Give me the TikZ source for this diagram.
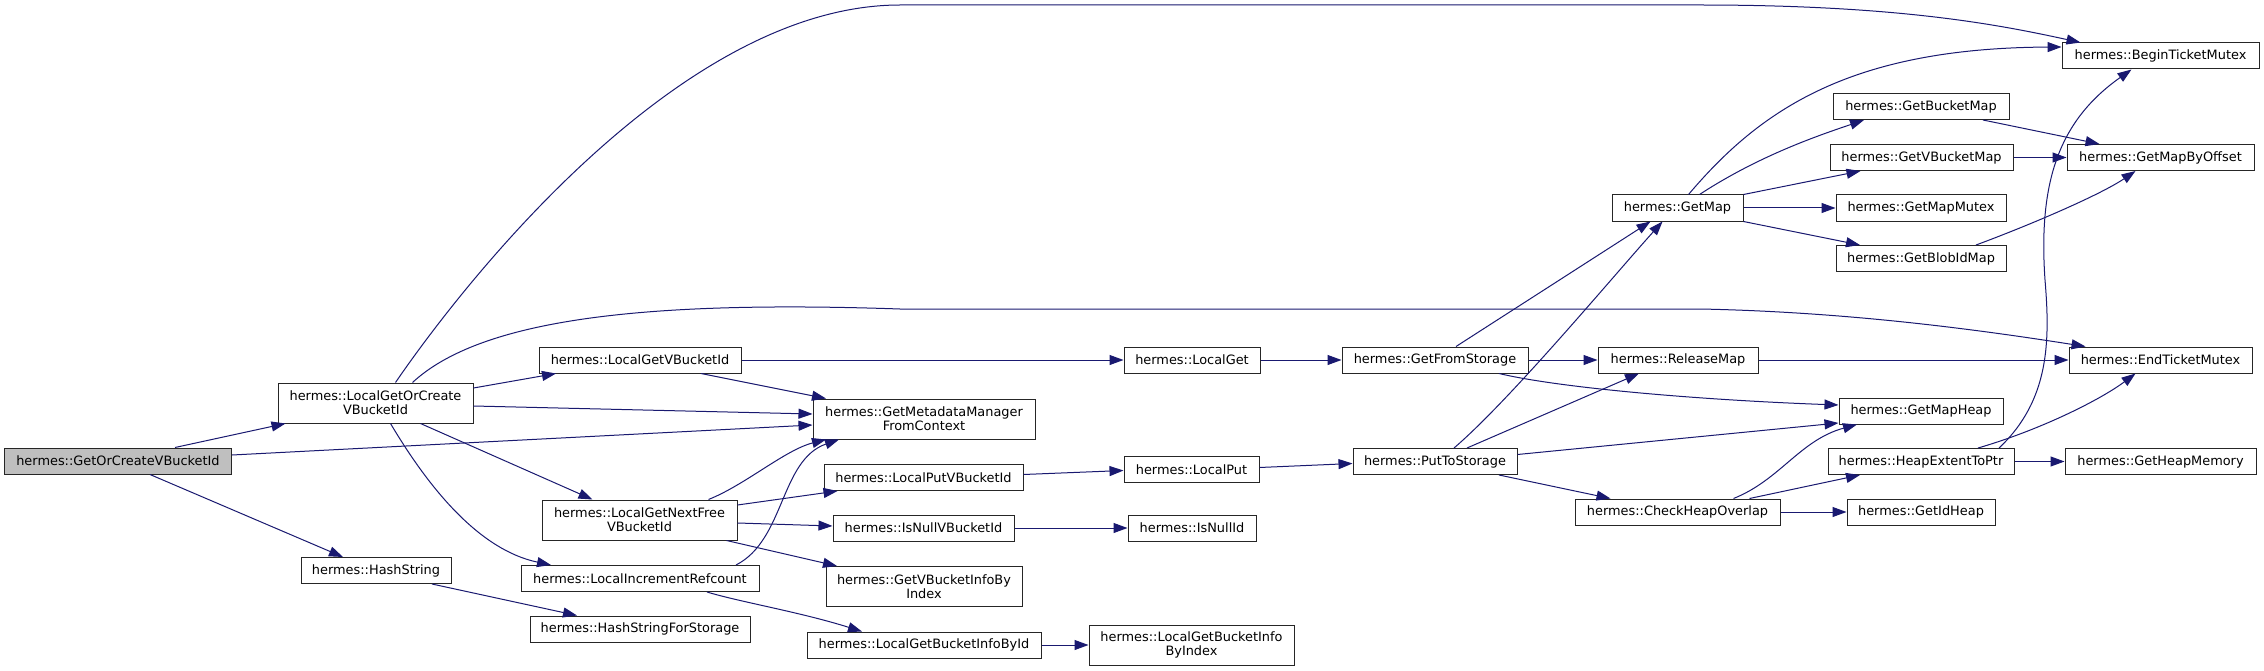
\documentclass[tikz,border=0pt]{standalone}
\usepackage{fontspec}
\setmainfont{DejaVu Sans}
\usetikzlibrary{arrows.meta}
\definecolor{edgecol}{RGB}{25,25,112}
\definecolor{rootfill}{RGB}{191,191,191}
\begin{document}
\begin{tikzpicture}[x=1pt,y=-1pt,
  nd/.style={draw=black!85, line width=1pt, fill=white, inner sep=0pt, minimum height=26pt, align=center, font=\fontsize{12.9}{14}\selectfont},
  nd2/.style={nd, minimum height=40pt},
  edge/.style={draw=edgecol, line width=1pt, -{Triangle[length=14pt,width=10pt]}}]
\useasboundingbox[fill=white] (0,0) rectangle (2264,671);
% nodes
\node[nd, fill=rootfill, minimum width=227pt] (root) at (118,461) {hermes::GetOrCreateVBucketId};
\node[nd2, minimum width=195pt] (lgoc) at (375.5,403) {hermes::LocalGetOrCreate\\VBucketId};
\node[nd, minimum width=150pt] (hs) at (376,570.5) {hermes::HashString};
\node[nd, minimum width=202pt] (lgvb) at (640,360) {hermes::LocalGetVBucketId};
\node[nd2, minimum width=222pt] (gmm) at (924,419) {hermes::GetMetadataManager\\FromContext};
\node[nd2, minimum width=195pt] (lgnf) at (639.5,520) {hermes::LocalGetNextFree\\VBucketId};
\node[nd, minimum width=238pt] (lir) at (640,578.5) {hermes::LocalIncrementRefcount};
\node[nd, minimum width=220pt] (hsfs) at (640,629) {hermes::HashStringForStorage};
\node[nd, minimum width=199pt] (lpvb) at (923.5,477.5) {hermes::LocalPutVBucketId};
\node[nd, minimum width=181pt] (invb) at (923.5,528) {hermes::IsNullVBucketId};
\node[nd2, minimum width=196pt] (gvbi) at (924,586.5) {hermes::GetVBucketInfoBy\\Index};
\node[nd, minimum width=234pt] (lgbi) at (924,645) {hermes::LocalGetBucketInfoById};
\node[nd2, minimum width=205pt] (lgbix) at (1191.5,645) {hermes::LocalGetBucketInfo\\ByIndex};
\node[nd, minimum width=136pt] (lget) at (1192,360) {hermes::LocalGet};
\node[nd, minimum width=135pt] (lput) at (1191.5,469.5) {hermes::LocalPut};
\node[nd, minimum width=128pt] (inid) at (1192,528) {hermes::IsNullId};
\node[nd, minimum width=186pt] (gfs) at (1435,360) {hermes::GetFromStorage};
\node[nd, minimum width=164pt] (pts) at (1435,461.5) {hermes::PutToStorage};
\node[nd, minimum width=131pt] (gmap) at (1677.5,208) {hermes::GetMap};
\node[nd, minimum width=160pt] (rmap) at (1678,360) {hermes::ReleaseMap};
\node[nd, minimum width=205pt] (cho) at (1677.5,512) {hermes::CheckHeapOverlap};
\node[nd, minimum width=197pt] (btm) at (2160.5,56) {hermes::BeginTicketMutex};
\node[nd, minimum width=176pt] (gbm) at (1921,106.5) {hermes::GetBucketMap};
\node[nd, minimum width=183pt] (gvbm) at (1921.5,157.5) {hermes::GetVBucketMap};
\node[nd, minimum width=187pt] (gmbo) at (2160.5,157.5) {hermes::GetMapByOffset};
\node[nd, minimum width=170pt] (gmmx) at (1921,208) {hermes::GetMapMutex};
\node[nd, minimum width=170pt] (gbim) at (1921,258.5) {hermes::GetBlobIdMap};
\node[nd, minimum width=183pt] (etm) at (2160.5,360) {hermes::EndTicketMutex};
\node[nd, minimum width=164pt] (gmh) at (1921,411) {hermes::GetMapHeap};
\node[nd, minimum width=186pt] (hetp) at (1921,461.5) {hermes::HeapExtentToPtr};
\node[nd, minimum width=191pt] (ghm) at (2160.5,461.5) {hermes::GetHeapMemory};
\node[nd, minimum width=148pt] (gih) at (1921,512) {hermes::GetIdHeap};
% edges
\draw[edge] ([xshift=57pt]root.north) -- ([xshift=-90pt]lgoc.south);
\draw[edge] ([yshift=6pt]root.east) -- ([yshift=-6pt]gmm.west);
\draw[edge] ([xshift=32pt]root.south) -- ([xshift=-33pt]hs.north);
\draw[edge] ([xshift=20pt]lgoc.north) .. controls (445,310) and (670,5) .. (900,5) -- (1700,5) .. controls (1900,5) and (2000,25) .. ([xshift=-80pt]btm.north);
\draw[edge] ([xshift=37pt]lgoc.north) .. controls (480,320) and (640,300) .. (900,309) -- (1700,309) .. controls (1850,312) and (1980,330) .. ([xshift=-75pt]etm.north);
\draw[edge] ([yshift=15pt]lgoc.east) -- ([xshift=-84pt]lgvb.south);
\draw[edge] ([yshift=-3pt]lgoc.east) -- ([yshift=5pt]gmm.west);
\draw[edge] ([xshift=45pt]lgoc.south) -- ([xshift=-47pt]lgnf.north);
\draw[edge] ([xshift=15pt]lgoc.south) .. controls (430,490) and (480,550) .. ([xshift=-89pt]lir.north);
\draw[edge] ([xshift=56pt]hs.south) -- ([xshift=-63pt]hsfs.north);
\draw[edge] (lgvb.east) -- (lget.west);
\draw[edge] ([xshift=61pt]lgvb.south) -- ([xshift=-98pt]gmm.north);
\draw[edge] ([xshift=69pt]lgnf.north) .. controls (745,485) and (785,450) .. ([xshift=-98pt]gmm.south);
\draw[edge] ([xshift=96pt]lir.north) .. controls (785,540) and (780,460) .. ([xshift=-85pt]gmm.south);
\draw[edge] ([yshift=15pt]lgnf.east) -- ([xshift=-86pt]lpvb.south);
\draw[edge] ([yshift=-3pt]lgnf.east) -- ([yshift=2pt]invb.west);
\draw[edge] ([xshift=87pt]lgnf.south) -- ([xshift=-87pt]gvbi.north);
\draw[edge] ([xshift=67pt]lir.south) .. controls (740,602) and (800,612) .. ([xshift=-62pt]lgbi.north);
\draw[edge] (lgbi.east) -- (lgbix.west);
\draw[edge] ([yshift=3pt]lpvb.east) -- ([yshift=-1pt]lput.west);
\draw[edge] (invb.east) -- (inid.west);
\draw[edge] (lget.east) -- (gfs.west);
\draw[edge] ([yshift=2pt]lput.east) -- ([yshift=-2pt]pts.west);
\draw[edge] ([xshift=21pt]gfs.north) -- ([xshift=-27pt]gmap.south);
\draw[edge] (gfs.east) -- (rmap.west);
\draw[edge] ([xshift=64pt]gfs.south) .. controls (1560,388) and (1700,400) .. ([yshift=6pt]gmh.west);
\draw[edge] ([xshift=19pt]pts.north) .. controls (1510,400) and (1610,280) .. ([xshift=-15pt]gmap.south);
\draw[edge] ([xshift=32pt]pts.north) -- ([xshift=-39pt]rmap.south);
\draw[edge] ([yshift=7pt]pts.east) -- ([yshift=-12pt]gmh.west);
\draw[edge] ([xshift=64pt]pts.south) -- ([xshift=-67pt]cho.north);
\draw[edge] ([xshift=11pt]gmap.north) .. controls (1760,110) and (1850,48) .. ([yshift=9pt]btm.west);
\draw[edge] ([xshift=22pt]gmap.north) .. controls (1760,155) and (1820,135) .. ([xshift=-57pt]gbm.south);
\draw[edge] (gmap.north east) -- ([xshift=-61pt]gvbm.south);
\draw[edge] (gmap.east) -- (gmmx.west);
\draw[edge] (gmap.south east) -- ([xshift=-61pt]gbim.north);
\draw[edge] ([xshift=62pt]gbm.south) -- ([xshift=-61pt]gmbo.north);
\draw[edge] (gvbm.east) -- (gmbo.west);
\draw[edge] ([xshift=55pt]gbim.north) .. controls (2030,225) and (2100,195) .. ([xshift=-25pt]gmbo.south);
\draw[edge] (rmap.east) -- (etm.west);
\draw[edge] ([xshift=56pt]cho.north) .. controls (1780,480) and (1800,440) .. ([xshift=-64pt]gmh.south);
\draw[edge] ([xshift=72pt]cho.north) -- ([xshift=-61pt]hetp.south);
\draw[edge] (cho.east) -- (gih.west);
\draw[edge] ([xshift=78pt]hetp.north) .. controls (2050,400) and (2050,340) .. (2045,280) .. controls (2038,180) and (2060,120) .. ([xshift=-29pt]btm.south);
\draw[edge] ([xshift=57pt]hetp.north) .. controls (2040,430) and (2100,400) .. ([xshift=-25pt]etm.south);
\draw[edge] (hetp.east) -- (ghm.west);
\end{tikzpicture}
\end{document}
